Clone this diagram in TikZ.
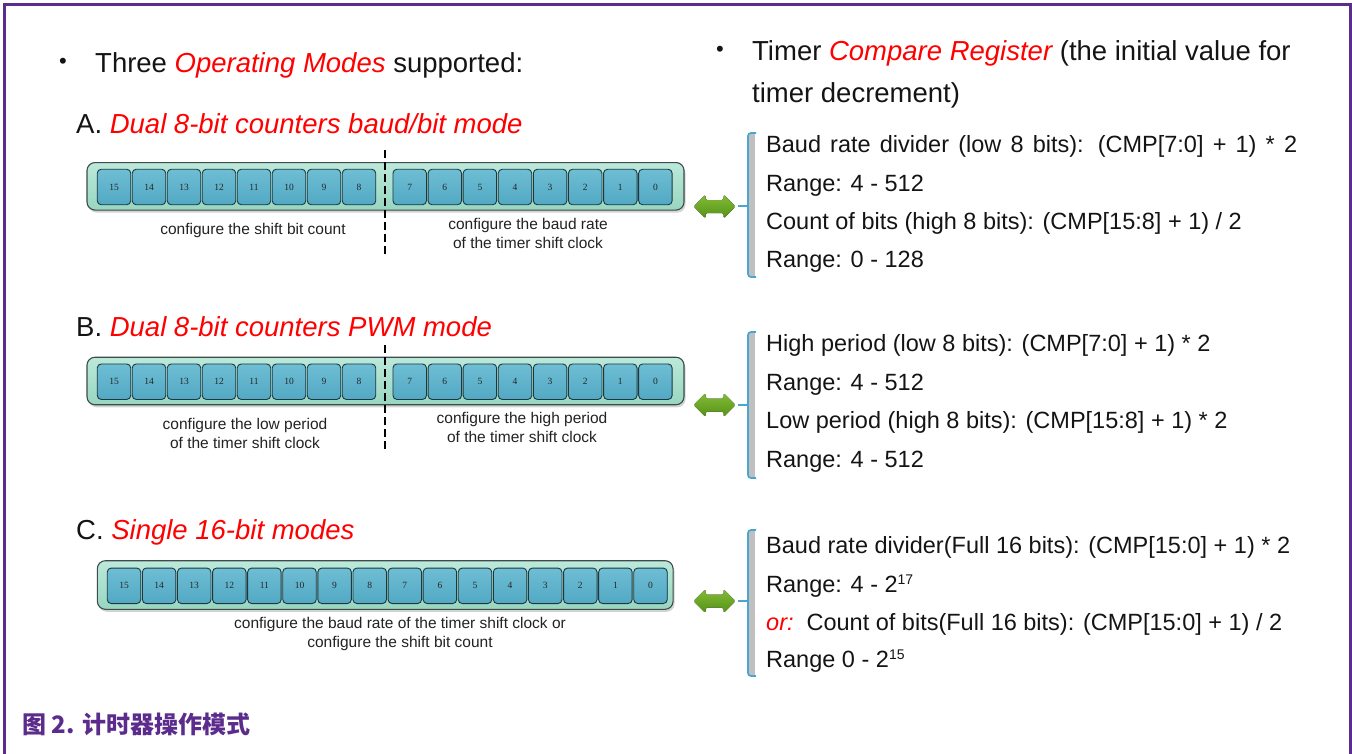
\documentclass[tikz,border=0pt]{standalone}
\usepackage{fontspec}
\setmainfont{Liberation Sans}
\newfontfamily\cellfont{Liberation Serif}
\newfontfamily\cjk{Noto Sans CJK SC}
\usetikzlibrary{shadows,calc}
\definecolor{frameP}{RGB}{92,44,140}
\definecolor{redT}{RGB}{255,0,0}
\definecolor{txt}{RGB}{20,20,20}
\definecolor{lbl}{RGB}{34,34,34}
\definecolor{cellTop}{RGB}{110,190,212}
\definecolor{cellBot}{RGB}{82,168,195}
\definecolor{cellLine}{RGB}{30,55,65}
\definecolor{barTop}{RGB}{188,233,218}
\definecolor{barBot}{RGB}{152,214,192}
\definecolor{barLine}{RGB}{60,75,75}
\definecolor{grTop}{RGB}{130,188,55}
\definecolor{grBot}{RGB}{85,145,22}
\definecolor{brBlue}{RGB}{75,165,205}
\definecolor{brGray}{RGB}{192,192,192}
\tikzset{
  regbar/.style={draw=barLine, line width=1.1pt, rounded corners=8pt, top color=barTop, bottom color=barBot,
    drop shadow={shadow xshift=1.5pt, shadow yshift=-2.5pt, opacity=.35}, inner sep=0pt},
  cell/.style={draw=cellLine, line width=0.9pt, rounded corners=4pt, top color=cellTop, bottom color=cellBot,
    minimum width=33.5pt, minimum height=35.5pt, inner sep=0pt, text=black!85,
    font=\cellfont\fontsize{9.5}{11}\selectfont},
  divider/.style={line width=2.2pt, dash pattern=on 8pt off 4pt, black},
  lbltxt/.style={align=center, text=lbl, font=\fontsize{15.5}{19}\selectfont, inner sep=0pt},
  title/.style={anchor=base west, inner sep=0pt, text=txt, font=\fontsize{27.5}{33}\selectfont},
  rline/.style={anchor=base west, inner sep=0pt, text=txt, font=\fontsize{23.5}{28}\selectfont},
  bul/.style={inner sep=0pt, text=txt, font=\fontsize{22}{24}\selectfont},
  fatarrow/.style={top color=grTop, bottom color=grBot, rounded corners=1.5pt},
  brfill/.style={fill=brGray},
  brline/.style={draw=brBlue, line width=1.7pt},
  frame/.style={draw=frameP, line width=2.7pt},
}
\newcommand{\rT}[1]{\textcolor{redT}{\itshape #1}}
\newcommand{\supr}[1]{\raisebox{7.5pt}{\fontsize{14}{15}\selectfont #1}}
\newcommand{\dblarr}[2]{%
  \coordinate (#1) at (#2);
  \fill[fatarrow] ($(#1)+(-21,0)$) -- ++(12,-12) -- ++(0,5.5) -- ++(18,0) -- ++(0,-5.5)
     -- ++(12,12) -- ++(-12,12) -- ++(0,-5.5) -- ++(-18,0) -- ++(0,5.5) -- cycle;}
\newcommand{\brkt}[4]{%
  \coordinate (#1t) at (748,#2);
  \coordinate (#1b) at (748,#3);
  \coordinate (#1m) at (748,#4);
  \coordinate (#1l) at (738,#4);
  \fill[brfill] (748,#2) rectangle (755,#3);
  \draw[brline, rounded corners=3pt] ($(#1t)+(8,0)$) -- (#1t) -- (#1b) -- ($(#1b)+(8,0)$);
  \draw[brline] (#1m) -- (#1l);}
\begin{document}
\begin{tikzpicture}[x=1pt,y=-1pt]
\useasboundingbox (0,0) rectangle (1352,753);
% frame
\draw[frame] (4.7,760) -- (4.7,4.7) -- (1350.6,4.7) -- (1350.6,760);

% headers
\node[bul] (b1) at (63,63) {•};
\node[title] (h1) at (95,72) {Three \textcolor{redT}{\itshape Operating Modes} supported:};
\node[bul] (b2) at (720,51) {•};
\node[title] (h2) at (752,60) {Timer \textcolor{redT}{\itshape Compare Register} (the initial value for};
\node[title] (h3) at (752,102) {timer decrement)};

% ---------- Mode A ----------
\node[title] (tA) at (76,133) {A. \rT{Dual 8-bit counters baud/bit mode}};
\node[regbar, minimum width=597pt, minimum height=47.5pt] (barA) at (385.5,186.3) {};
\foreach \k in {15,14,...,8} {\node[cell] (a\k) at ({114+(15-\k)*35},187) {\k};}
\foreach \k in {7,6,...,0} {\node[cell] (a\k) at ({409.7+(7-\k)*35.1},187) {\k};}
\coordinate (dA1) at (385,150);
\coordinate (dA2) at (385,257);
\draw[divider] (dA1) -- (dA2);
\node[lbltxt] (lA1) at (253,230) {configure the shift bit count};
\node[lbltxt] (lA2) at (528,233.5) {configure the baud rate\\of the timer shift clock};
\dblarr{arA}{714.5,206.5}
\brkt{brA}{133}{277}{206}
\node[rline] (rA1) at (766,152) {\makebox[531pt][s]{Baud rate divider (low 8 bits): (CMP[7:0] + 1) * 2}};
\node[rline] (rA2) at (766,191) {Range: 4 - 512};
\node[rline] (rA3) at (766,229.5) {Count of bits (high 8 bits): (CMP[15:8] + 1) / 2};
\node[rline] (rA4) at (766,267.5) {Range: 0 - 128};

% ---------- Mode B ----------
\node[title] (tB) at (76,336) {B. \rT{Dual 8-bit counters PWM mode}};
\node[regbar, minimum width=597pt, minimum height=47.5pt] (barB) at (385.5,381) {};
\foreach \k in {15,14,...,8} {\node[cell] (p\k) at ({114+(15-\k)*35},381.7) {\k};}
\foreach \k in {7,6,...,0} {\node[cell] (p\k) at ({409.7+(7-\k)*35.1},381.7) {\k};}
\coordinate (dB1) at (385,345);
\coordinate (dB2) at (385,451);
\draw[divider] (dB1) -- (dB2);
\node[lbltxt] (lB1) at (245,433.5) {configure the low period\\of the timer shift clock};
\node[lbltxt] (lB2) at (522,427.5) {configure the high period\\of the timer shift clock};
\dblarr{arB}{714.5,405}
\brkt{brB}{332}{478}{405}
\node[rline] (rB1) at (766,351.5) {High period (low 8 bits): (CMP[7:0] + 1) * 2};
\node[rline] (rB2) at (766,390.5) {Range: 4 - 512};
\node[rline] (rB3) at (766,428.5) {Low period (high 8 bits): (CMP[15:8] + 1) * 2};
\node[rline] (rB4) at (766,467.5) {Range: 4 - 512};

% ---------- Mode C ----------
\node[title] (tC) at (76,539) {C. \rT{Single 16-bit modes}};
\node[regbar, minimum width=575.7pt, minimum height=48.6pt] (barC) at (385.2,585) {};
\foreach \k in {15,14,...,0} {\node[cell] (s\k) at ({124+(15-\k)*35.1},585.8) {\k};}
\node[lbltxt] (lC) at (400,633.5) {configure the baud rate of the timer shift clock or\\configure the shift bit count};
\dblarr{arC}{714.5,601}
\brkt{brC}{530}{676}{601}
\node[rline] (rC1) at (766,553.5) {Baud rate divider(Full 16 bits): (CMP[15:0] + 1) * 2};
\node[rline] (rC2) at (766,592) {Range: 4 - 2\supr{17}};
\node[rline] (rC3) at (766,630) {\rT{or:}\hspace{13pt}Count of bits(Full 16 bits): (CMP[15:0] + 1) / 2};
\node[rline] (rC4) at (766,667) {Range 0 - 2\supr{15}};

% caption
\node[anchor=base west, inner sep=0pt, text=frameP, font=\cjk\bfseries\fontsize{24}{28}\selectfont] (cap) at (22,733) {图 2. 计时器操作模式};
\end{tikzpicture}
\end{document}
